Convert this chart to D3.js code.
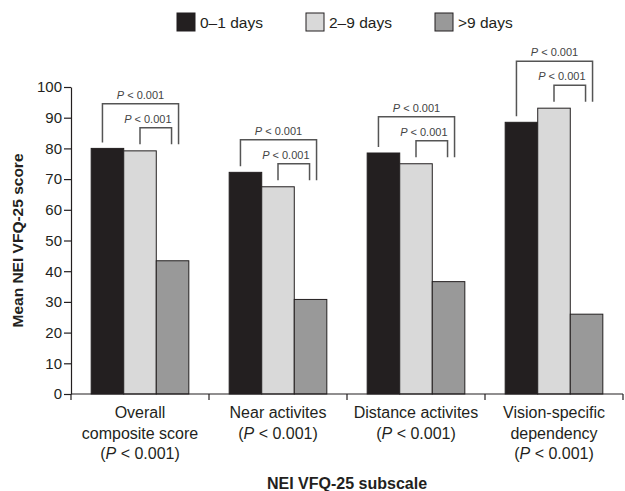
<!DOCTYPE html>
<html>
<head>
<meta charset="utf-8">
<script src="https://cdn.jsdelivr.net/npm/d3@7"></script>
<style>
	body { margin: 0; background: #fff; }
	text { font-family: "Liberation Sans", Arial, sans-serif; }
</style>
</head>
<body>
<div id="vis"></div>
<script>
// data
const CATEGORIES = ["Overall composite score", "Near activites", "Distance activites", "Vision-specific dependency"];
const CATEGORY_LINES = [
	["Overall", "composite score", "P"],
	["Near activites", "P"],
	["Distance activites", "P"],
	["Vision-specific", "dependency", "P"]
];
const SERIES = ["0\u20131 days", "2\u20139 days", ">9 days"];
const DAYS_0_1 = [80.0, 72.2, 78.5, 88.5];
const DAYS_2_9 = [79.2, 67.5, 75.0, 93.1];
const DAYS_9_PLUS = [43.4, 30.8, 36.6, 26.0];
const Y_TICKS = [0, 10, 20, 30, 40, 50, 60, 70, 80, 90, 100];
const P_LABEL = "P < 0.001";

const VALUES = [DAYS_0_1, DAYS_2_9, DAYS_9_PLUS];
const COLORS = ["#231f20", "#d9d9d9", "#999999"];

// declare constants
const FRAME_WIDTH = 625;
const FRAME_HEIGHT = 491;
const MARGINS = {left: 71, right: 2, top: 87, bottom: 97};

const FRAME = d3.select("#vis")
	.append("svg")
		.attr("width", FRAME_WIDTH)
		.attr("height", FRAME_HEIGHT);

// scales
const X0 = d3.scaleBand()
	.domain(CATEGORIES)
	.range([MARGINS.left, FRAME_WIDTH - MARGINS.right]);
const X1 = d3.scaleBand()
	.domain(SERIES)
	.range([0, X0.bandwidth()])
	.paddingOuter(0.62);
const Y = d3.scaleLinear()
	.domain([0, 100])
	.range([FRAME_HEIGHT - MARGINS.bottom, MARGINS.top]);

// bars
const rows = [];
CATEGORIES.forEach((c, i) => {
	SERIES.forEach((s, j) => {
		rows.push({cat: c, series: s, value: VALUES[j][i], j: j});
	});
});

FRAME.selectAll(".bar")
	.data(rows)
	.enter()
	.append("rect")
		.attr("class", "bar")
		.attr("x", (d) => X0(d.cat) + X1(d.series))
		.attr("y", (d) => Y(d.value))
		.attr("width", X1.bandwidth())
		.attr("height", (d) => Y(0) - Y(d.value))
		.attr("fill", (d) => COLORS[d.j])
		.attr("stroke", "#231f20")
		.attr("stroke-width", 1);

// y axis
const yAxis = FRAME.append("g")
	.attr("transform", "translate(" + MARGINS.left + ",0)")
	.call(d3.axisLeft(Y).tickValues(Y_TICKS).tickSize(7).tickSizeOuter(0).tickPadding(2));
yAxis.selectAll("text").attr("font-size", "15px").attr("fill", "#231f20")
	.style("font-family", "'Liberation Sans', Arial, sans-serif");
yAxis.selectAll("line, path").attr("stroke", "#231f20").attr("stroke-width", 1.2);

// x axis line and band ticks
const xAxis = FRAME.append("g");
xAxis.append("line")
	.attr("x1", X0.range()[0]).attr("x2", X0.range()[1])
	.attr("y1", Y(0)).attr("y2", Y(0))
	.attr("stroke", "#231f20").attr("stroke-width", 1.2);
const edges = CATEGORIES.map((c) => X0(c)).concat([X0.range()[1]]);
xAxis.selectAll(".xtick")
	.data(edges)
	.enter()
	.append("line")
		.attr("x1", (d) => d).attr("x2", (d) => d)
		.attr("y1", Y(0)).attr("y2", Y(0) + 6)
		.attr("stroke", "#231f20").attr("stroke-width", 1.2);

// category labels
CATEGORIES.forEach((c, i) => {
	const cx = X0(c) + X0.bandwidth() / 2;
	const t = FRAME.append("text")
		.attr("text-anchor", "middle")
		.attr("font-size", "16px")
		.attr("fill", "#231f20");
	CATEGORY_LINES[i].forEach((line, k) => {
		const ts = t.append("tspan")
			.attr("x", cx)
			.attr("y", Y(0) + 24 + k * 20.6);
		if (line === "P") {
			ts.text("(");
			ts.append("tspan").attr("font-style", "italic").text("P");
			ts.append("tspan").text(" < 0.001)");
		} else {
			ts.text(line);
		}
	});
});

// significance brackets
const bracketColor = "#555";
CATEGORIES.forEach((c, i) => {
	const gx = X0(c);
	const bw = X1.bandwidth();
	const c0 = gx + X1(SERIES[0]) + bw / 2;
	const c1 = gx + X1(SERIES[1]) + bw / 2;
	const c2 = gx + X1(SERIES[2]) + bw / 2;
	const y0 = Y(DAYS_0_1[i]);
	const y1 = Y(DAYS_2_9[i]);
	const innerTop = y1 - 23;
	const outerTop = innerTop - 24;
	const legLow = y1 - 6.5;

	// inner bracket: 2-9 vs >9
	FRAME.append("path")
		.attr("d", "M" + c1 + "," + legLow + "V" + innerTop + "H" + (c2 - 1) + "V" + legLow)
		.attr("fill", "none").attr("stroke", bracketColor).attr("stroke-width", 1.5);
	// outer bracket: 0-1 vs >9
	FRAME.append("path")
		.attr("d", "M" + (c0 - 5) + "," + (y0 - 6) + "V" + outerTop + "H" + (c2 + 6) + "V" + legLow)
		.attr("fill", "none").attr("stroke", bracketColor).attr("stroke-width", 1.5);

	const addLabel = (x, y, anchor) => {
		const t = FRAME.append("text")
			.attr("x", x).attr("y", y)
			.attr("text-anchor", anchor)
			.attr("font-size", "11px")
			.attr("fill", "#444");
		t.append("tspan").attr("font-style", "italic").text(P_LABEL.slice(0, 1));
		t.append("tspan").text(P_LABEL.slice(1));
	};
	addLabel((c0 - 5 + c2 + 6) / 2, outerTop - 5, "middle");
	addLabel(c2 - 1, innerTop - 5, "end");
});

// axis titles
FRAME.append("text")
	.attr("transform", "translate(23," + ((Y(0) + Y(100)) / 2) + ") rotate(-90)")
	.attr("text-anchor", "middle")
	.attr("font-size", "15.5px")
	.attr("font-weight", "bold")
	.attr("fill", "#231f20")
	.text("Mean NEI VFQ-25 score");

FRAME.append("text")
	.attr("x", (X0.range()[0] + X0.range()[1]) / 2)
	.attr("y", 489)
	.attr("text-anchor", "middle")
	.attr("font-size", "16px")
	.attr("font-weight", "bold")
	.attr("fill", "#231f20")
	.text("NEI VFQ-25 subscale");

// legend
const LEGEND_X = [177, 306, 435];
const legend = FRAME.selectAll(".legend")
	.data(SERIES)
	.enter()
	.append("g")
		.attr("transform", (d, i) => "translate(" + LEGEND_X[i] + ",13)");
legend.append("rect")
	.attr("width", 18).attr("height", 18)
	.attr("fill", (d, i) => COLORS[i])
	.attr("stroke", "#231f20").attr("stroke-width", 1);
legend.append("text")
	.attr("x", 23).attr("y", 14.5)
	.attr("font-size", "15.5px")
	.attr("fill", "#231f20")
	.text((d) => d);
</script>
</body>
</html>
